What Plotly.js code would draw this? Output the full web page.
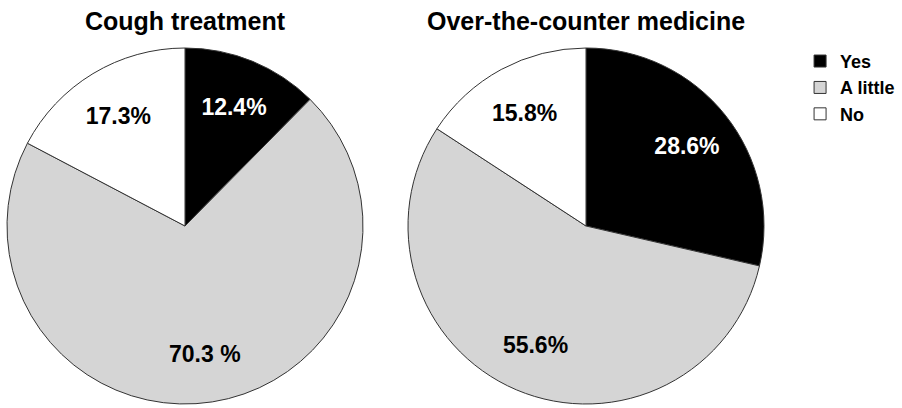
<!DOCTYPE html>
<html>
<head>
<meta charset="utf-8">
<script src="https://cdn.plot.ly/plotly-3.0.1.min.js"></script>
<style>html,body{margin:0;padding:0;background:#fff;}#chart{width:902px;height:408px;}</style>
</head>
<body>
<div id="chart"></div>
<script>
const categories = ["Yes", "A little", "No"];
const coughValues = [12.4, 70.3, 17.3];
const otcValues = [28.6, 55.6, 15.8];
const coughLabels = ["12.4%", "70.3 %", "17.3%"];
const otcLabels = ["28.6%", "55.6%", "15.8%"];
const titles = ["Cough treatment", "Over-the-counter medicine"];
const colors = ["#000000", "#d5d5d5", "#ffffff"];

const FONT = "Liberation Sans, Arial, sans-serif";
const domains = [
  {x: [7/902, 363/902], y: [4/408, 360/408]},
  {x: [408/902, 764/902], y: [4/408, 360/408]}
];

function pie(values, domain, showlegend) {
  return {
    type: "pie",
    labels: categories,
    values: values,
    textinfo: "none",
    sort: false,
    direction: "clockwise",
    rotation: 0,
    marker: {colors: colors, line: {color: "#333333", width: 1}},
    domain: domain,
    showlegend: showlegend,
    hoverinfo: "skip"
  };
}

// transparent ring carrying the percentage labels, so they sit mid-way out in each slice
function labelRing(values, texts, domain) {
  return {
    type: "pie",
    labels: categories,
    values: values,
    text: texts,
    textinfo: "text",
    textposition: "inside",
    insidetextorientation: "horizontal",
    sort: false,
    direction: "clockwise",
    rotation: 0,
    hole: 0.45,
    marker: {colors: ["rgba(0,0,0,0)", "rgba(0,0,0,0)", "rgba(0,0,0,0)"], line: {width: 0}},
    insidetextfont: {family: FONT, size: 23, color: ["#ffffff", "#000000", "#000000"], weight: "bold"},
    domain: domain,
    showlegend: false,
    hoverinfo: "skip"
  };
}

const data = [
  pie(coughValues, domains[0], true),
  pie(otcValues, domains[1], false),
  labelRing(coughValues, coughLabels, domains[0]),
  labelRing(otcValues, otcLabels, domains[1])
];

const layout = {
  width: 902, height: 408,
  margin: {l: 0, r: 0, t: 0, b: 0},
  paper_bgcolor: "#fff",
  font: {family: FONT, color: "#000"},
  showlegend: true,
  legend: {
    x: 0.887, y: 0.895, xanchor: "left", yanchor: "top",
    font: {family: FONT, size: 18, color: "#000", weight: "bold"},
    tracegroupgap: 0
  },
  annotations: titles.map((t, i) => ({
    text: "<b>" + t + "</b>",
    xref: "paper", yref: "paper",
    x: (domains[i].x[0] + domains[i].x[1]) / 2,
    y: 1 - 21/408,
    xanchor: "center", yanchor: "middle",
    showarrow: false,
    font: {family: FONT, size: 25, color: "#000"}
  }))
};

Plotly.newPlot("chart", data, layout, {staticPlot: true, displayModeBar: false});
</script>
</body>
</html>
